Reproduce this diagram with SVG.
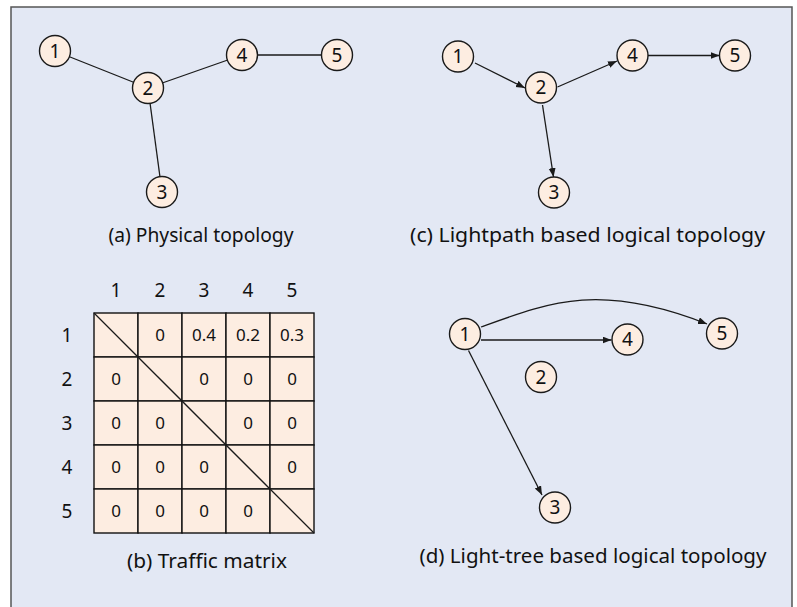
<svg xmlns="http://www.w3.org/2000/svg" width="797" height="607" viewBox="0 0 797 607">
  <defs>
    <style>
      .frame { fill: #e3e8f4; stroke: #555; stroke-width: 1.5; }
      .node circle { fill: #fdede1; stroke: #1a1a1a; stroke-width: 1.4; }
      .node text { font-family: "Noto Sans", "Open Sans", sans-serif; font-size: 19px; fill: #111; text-anchor: middle; }
      .edge { fill: none; stroke: #1a1a1a; stroke-width: 1.3; }
      .arrow { marker-end: url(#head); }
      .caption { font-family: "Noto Sans", "Open Sans", sans-serif; font-size: 20px; fill: #111; text-anchor: middle; }
      .hdr { font-family: "Noto Sans", "Open Sans", sans-serif; font-size: 19px; fill: #111; text-anchor: middle; }
      .cell { fill: #fdede1; stroke: #111; stroke-width: 1.4; }
      .val { font-family: "Noto Sans", "Open Sans", sans-serif; font-size: 17px; fill: #111; text-anchor: middle; }
    </style>
    <marker id="head" markerUnits="userSpaceOnUse" markerWidth="10" markerHeight="8" refX="9" refY="3.5" orient="auto">
      <path d="M0,0 L9,3.5 L0,7 z" fill="#1a1a1a"/>
    </marker>
  </defs>

  <!-- outer panel, open at the bottom edge -->
  <rect class="frame" x="11" y="7" width="781" height="612"/>

  <!-- (a) physical topology -->
  <g id="a-edges">
    <line class="edge" x1="55" y1="51" x2="148" y2="88"/>
    <line class="edge" x1="148" y1="88" x2="242" y2="55"/>
    <line class="edge" x1="242" y1="55" x2="337" y2="55"/>
    <line class="edge" x1="148" y1="88" x2="162" y2="192"/>
  </g>
  <g id="a-n1" class="node"><circle cx="55" cy="51" r="15.5"/><text x="55" y="57.5">1</text></g>
  <g id="a-n2" class="node"><circle cx="148" cy="88" r="15.5"/><text x="148" y="94.5">2</text></g>
  <g id="a-n3" class="node"><circle cx="162" cy="192" r="15.5"/><text x="162" y="198.5">3</text></g>
  <g id="a-n4" class="node"><circle cx="242" cy="55" r="15.5"/><text x="242" y="61.5">4</text></g>
  <g id="a-n5" class="node"><circle cx="337" cy="55" r="15.5"/><text x="337" y="61.5">5</text></g>
  <text class="caption" x="201" y="242" textLength="185" lengthAdjust="spacingAndGlyphs">(a) Physical topology</text>

  <!-- (c) lightpath based logical topology -->
  <g id="c-edges">
    <line class="edge arrow" x1="475" y1="63" x2="525" y2="88"/>
    <line class="edge arrow" x1="557.5" y1="87" x2="617" y2="61"/>
    <line class="edge arrow" x1="648" y1="55.5" x2="719.5" y2="55.5"/>
    <line class="edge arrow" x1="542.5" y1="105" x2="553.5" y2="177"/>
  </g>
  <g id="c-n1" class="node"><circle cx="458" cy="56.5" r="15.5"/><text x="458" y="63">1</text></g>
  <g id="c-n2" class="node"><circle cx="541" cy="87.5" r="15.5"/><text x="541" y="94">2</text></g>
  <g id="c-n3" class="node"><circle cx="554" cy="192.5" r="15.5"/><text x="554" y="199">3</text></g>
  <g id="c-n4" class="node"><circle cx="632.5" cy="55.5" r="15.5"/><text x="632.5" y="62">4</text></g>
  <g id="c-n5" class="node"><circle cx="735" cy="55.5" r="15.5"/><text x="735" y="62">5</text></g>
  <text class="caption" x="587.5" y="242" textLength="355" lengthAdjust="spacingAndGlyphs">(c) Lightpath based logical topology</text>

  <!-- (b) traffic matrix -->
  <g id="matrix">
    <g class="hdr">
      <text x="116" y="297">1</text>
      <text x="160" y="297">2</text>
      <text x="204" y="297">3</text>
      <text x="248" y="297">4</text>
      <text x="292" y="297">5</text>
      <text x="67" y="341.5">1</text>
      <text x="67" y="385.5">2</text>
      <text x="67" y="429.5">3</text>
      <text x="67" y="473.5">4</text>
      <text x="67" y="517.5">5</text>
    </g>
    <g>
      <rect class="cell" x="94" y="313" width="44" height="44"/>
      <rect class="cell" x="138" y="313" width="44" height="44"/>
      <rect class="cell" x="182" y="313" width="44" height="44"/>
      <rect class="cell" x="226" y="313" width="44" height="44"/>
      <rect class="cell" x="270" y="313" width="44" height="44"/>
      <rect class="cell" x="94" y="357" width="44" height="44"/>
      <rect class="cell" x="138" y="357" width="44" height="44"/>
      <rect class="cell" x="182" y="357" width="44" height="44"/>
      <rect class="cell" x="226" y="357" width="44" height="44"/>
      <rect class="cell" x="270" y="357" width="44" height="44"/>
      <rect class="cell" x="94" y="401" width="44" height="44"/>
      <rect class="cell" x="138" y="401" width="44" height="44"/>
      <rect class="cell" x="182" y="401" width="44" height="44"/>
      <rect class="cell" x="226" y="401" width="44" height="44"/>
      <rect class="cell" x="270" y="401" width="44" height="44"/>
      <rect class="cell" x="94" y="445" width="44" height="44"/>
      <rect class="cell" x="138" y="445" width="44" height="44"/>
      <rect class="cell" x="182" y="445" width="44" height="44"/>
      <rect class="cell" x="226" y="445" width="44" height="44"/>
      <rect class="cell" x="270" y="445" width="44" height="44"/>
      <rect class="cell" x="94" y="489" width="44" height="44"/>
      <rect class="cell" x="138" y="489" width="44" height="44"/>
      <rect class="cell" x="182" y="489" width="44" height="44"/>
      <rect class="cell" x="226" y="489" width="44" height="44"/>
      <rect class="cell" x="270" y="489" width="44" height="44"/>
    </g>
    <line class="edge" x1="94" y1="313" x2="314" y2="533"/>
    <g class="val">
      <text x="160" y="341">0</text>
      <text x="204" y="341">0.4</text>
      <text x="248" y="341">0.2</text>
      <text x="292" y="341">0.3</text>
      <text x="116" y="385">0</text>
      <text x="204" y="385">0</text>
      <text x="248" y="385">0</text>
      <text x="292" y="385">0</text>
      <text x="116" y="429">0</text>
      <text x="160" y="429">0</text>
      <text x="248" y="429">0</text>
      <text x="292" y="429">0</text>
      <text x="116" y="473">0</text>
      <text x="160" y="473">0</text>
      <text x="204" y="473">0</text>
      <text x="292" y="473">0</text>
      <text x="116" y="517">0</text>
      <text x="160" y="517">0</text>
      <text x="204" y="517">0</text>
      <text x="248" y="517">0</text>
    </g>
  </g>
  <text class="caption" x="207" y="568" textLength="160" lengthAdjust="spacingAndGlyphs">(b) Traffic matrix</text>

  <!-- (d) light-tree based logical topology -->
  <g id="d-edges">
    <path class="edge arrow" d="M481,327 C550,302 600,282 707,324"/>
    <line class="edge arrow" x1="481" y1="340" x2="611.5" y2="340"/>
    <line class="edge arrow" x1="468.5" y1="350.5" x2="542" y2="495"/>
  </g>
  <g id="d-n1" class="node"><circle cx="465" cy="334" r="15.5"/><text x="465" y="340.5">1</text></g>
  <g id="d-n2" class="node"><circle cx="541" cy="377" r="15.5"/><text x="541" y="383.5">2</text></g>
  <g id="d-n3" class="node"><circle cx="555" cy="507.5" r="15.5"/><text x="555" y="514">3</text></g>
  <g id="d-n4" class="node"><circle cx="627.5" cy="339.5" r="15.5"/><text x="627.5" y="346">4</text></g>
  <g id="d-n5" class="node"><circle cx="722" cy="333.5" r="15.5"/><text x="722" y="340">5</text></g>
  <text class="caption" x="593" y="563" textLength="347" lengthAdjust="spacingAndGlyphs">(d) Light-tree based logical topology</text>
</svg>
